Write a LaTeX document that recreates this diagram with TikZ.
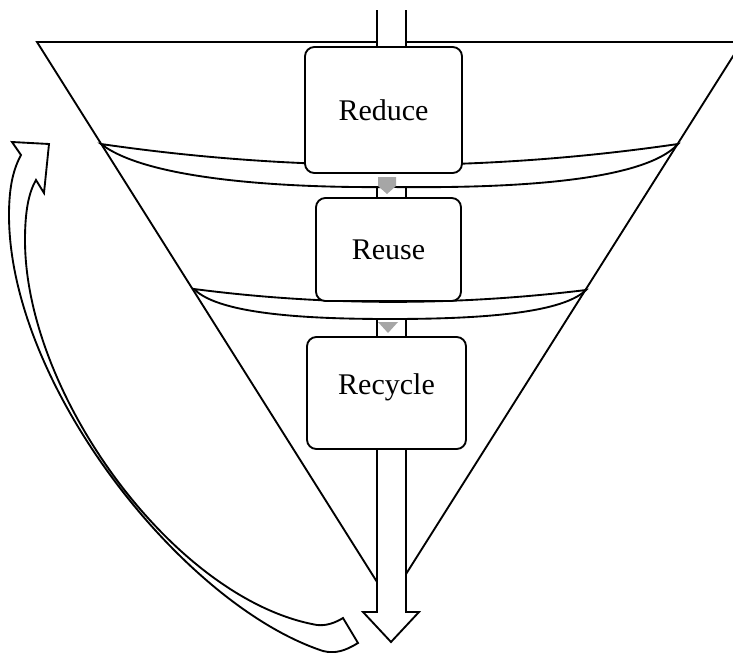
\documentclass[tikz,border=0pt]{standalone}
\usepackage{fontspec}
\setmainfont{Liberation Serif}
\usepackage{xcolor}
\usepackage{tikz}
\definecolor{chevgray}{RGB}{166,166,166}
\tikzset{
	stage node/.style={draw,fill=white,rounded corners=7pt,inner sep=0pt,outer sep=0pt,
		font=\fontsize{22.5}{27}\selectfont},
	band/.style={draw,fill=white},
	chevron/.style={fill=chevgray,draw=none},
	bent arrow/.style={draw,fill=white,line join=miter}
}

\begin{document}
\begin{tikzpicture}[x=0.75pt,y=-0.75pt,line width=1.4pt]
	\clip (0,0) rectangle (733,653);
	\draw (37,42) -- (742,42) -- (389,601) -- cycle;
	\path[fill=white] (377,0) -- (377,612) -- (363,612) -- (391,642) -- (419,612) -- (406,612) -- (406,0) -- cycle;
	\draw (377,10) -- (377,612) -- (363,612) -- (391,642) -- (419,612) -- (406,612) -- (406,10);
	\draw[band] (101,144) .. controls (294,172) and (486,172) .. (678,144)
		.. controls (640,186) and (480,188) .. (390,187)
		.. controls (300,188) and (150,182) .. cycle;
	\draw[band] (194,289) .. controls (325,306) and (455,306) .. (586,290)
		.. controls (560,316) and (460,319) .. (390,319)
		.. controls (320,319) and (220,316) .. cycle;
	\node[stage node,minimum width=117.75pt,minimum height=94.5pt] (reduce) at (383.5,110) {Reduce};
	\node[stage node,minimum width=108.75pt,minimum height=77.25pt] (reuse) at (388.5,249.5) {Reuse};
	\node[stage node,minimum width=119.25pt,minimum height=84pt] (recycle) at (386.5,393) {\raisebox{4pt}[\height][\depth]{Recycle}};
	\path[chevron] (378,177) -- (396,177) -- (396,186) -- (387,194) -- (378,186) -- cycle;
	\path[chevron] (378,322) -- (398,322) -- (388,333) -- cycle;
	\draw[bent arrow] (358,643) .. controls (345,651) and (335,654) .. (323,651)
		.. controls (183,605) and (9,385) .. (9,215)
		.. controls (9,185) and (14,168) .. (21,155)
		-- (12,142) -- (49,144) -- (44,193) -- (36,180)
		.. controls (29,192) and (25,210) .. (25,240)
		.. controls (25,395) and (175,600) .. (317,625)
		.. controls (326,626) and (335,623) .. (343,618) -- cycle;
\end{tikzpicture}
\end{document}
